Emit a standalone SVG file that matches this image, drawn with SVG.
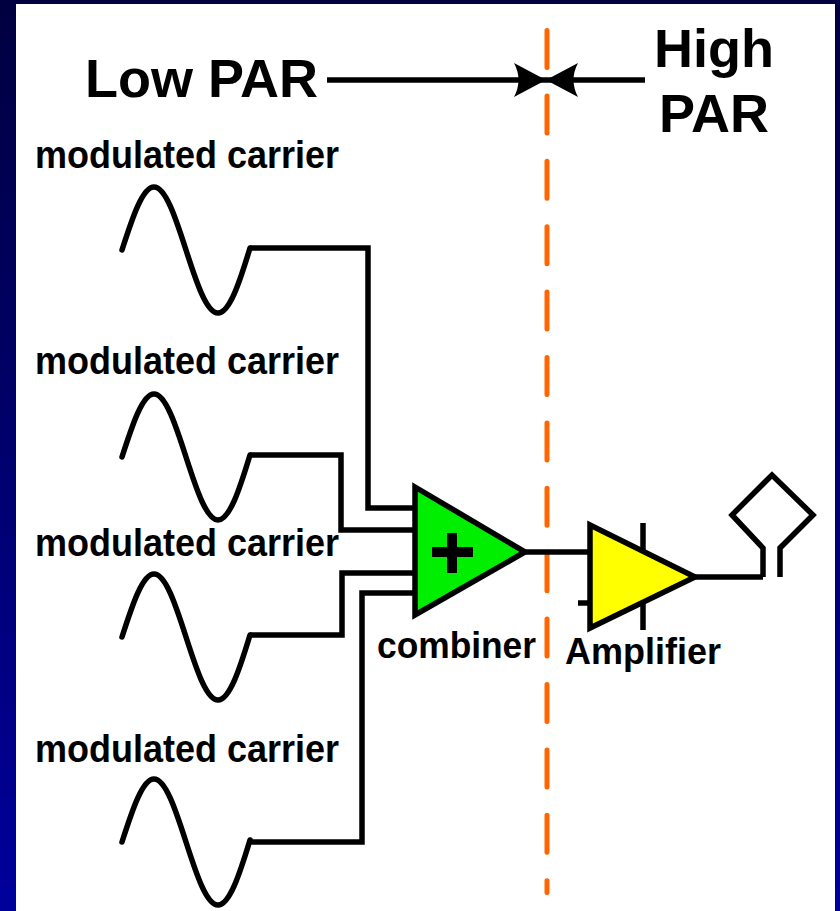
<svg xmlns="http://www.w3.org/2000/svg" width="840" height="911" viewBox="0 0 840 911">
  <defs>
    <linearGradient id="bg" x1="0" y1="0" x2="0" y2="1">
      <stop offset="0" stop-color="#000040"/>
      <stop offset="1" stop-color="#00009C"/>
    </linearGradient>
    <path id="wave" d="M0,0 C10.4,-32.3 20.5,-63 32,-63 C43.5,-63 53.6,-32.3 64,0 C74.4,32.3 84.5,63 96,63 C107.5,63 117.6,32.3 128,-2"/>
  </defs>
  <style>
    .ln { fill: none; stroke: #000; stroke-width: 5.5; stroke-linejoin: miter; }
    .wv { fill: none; stroke: #000; stroke-width: 5.5; stroke-linecap: round; }
    .lbl { font-family: "Liberation Sans", Arial, sans-serif; font-weight: bold; fill: #000; }
    .big { font-size: 54px; }
    .mc { font-size: 39px; }
    .sm { font-size: 37px; }
  </style>
  <rect x="0" y="0" width="840" height="911" fill="url(#bg)"/>
  <rect x="16" y="4" width="819" height="907" fill="#fff"/>

  <g id="divider">
    <path d="M547,30.5 V892.5" fill="none" stroke="#FF6600" stroke-width="5" stroke-linecap="round" stroke-dasharray="37 28.4"/>
  </g>

  <g id="par-labels">
    <text class="lbl big" x="85" y="97">Low PAR</text>
    <text class="lbl big" x="714" y="67" text-anchor="middle">High</text>
    <text class="lbl big" x="714" y="132" text-anchor="middle">PAR</text>
  </g>

  <g id="connectors">
    <path class="ln" d="M327,80 H645"/>
    <path d="M546,80 L514,63 Q523,80 514,97 Z" fill="#000"/>
    <path d="M546,80 L578,63 Q569,80 578,97 Z" fill="#000"/>
    <path class="ln" d="M250,248 H368 V508 H415"/>
    <path class="ln" d="M250,455 H341 V530 H415"/>
    <path class="ln" d="M250,635 H342 V573 H415"/>
    <path class="ln" d="M250,842 H362 V593 H415"/>
    <path class="ln" d="M525,552 H590"/>
    <path class="ln" d="M695,577 H763"/>
  </g>

  <g id="carrier1">
    <text class="lbl mc" x="35" y="168" textLength="304" lengthAdjust="spacingAndGlyphs">modulated carrier</text>
    <use href="#wave" class="wv" x="122" y="250"/>
  </g>
  <g id="carrier2">
    <text class="lbl mc" x="35" y="374" textLength="304" lengthAdjust="spacingAndGlyphs">modulated carrier</text>
    <use href="#wave" class="wv" x="122" y="457"/>
  </g>
  <g id="carrier3">
    <text class="lbl mc" x="35" y="556" textLength="304" lengthAdjust="spacingAndGlyphs">modulated carrier</text>
    <use href="#wave" class="wv" x="122" y="637"/>
  </g>
  <g id="carrier4">
    <text class="lbl mc" x="35" y="762" textLength="304" lengthAdjust="spacingAndGlyphs">modulated carrier</text>
    <use href="#wave" class="wv" x="122" y="842"/>
  </g>

  <g id="combiner">
    <path d="M415,487 L525,552 L415,615 Z" fill="#00EE00" stroke="#000" stroke-width="5.5" stroke-linejoin="miter"/>
    <rect x="432" y="547" width="41" height="10" fill="#000"/>
    <rect x="447" y="533" width="10" height="40" fill="#000"/>
    <text class="lbl sm" x="377" y="658" textLength="159" lengthAdjust="spacingAndGlyphs">combiner</text>
  </g>

  <g id="amplifier">
    <path class="ln" d="M643,523 V630"/>
    <path class="ln" d="M578,603 H590"/>
    <path d="M590,525 L695,577 L590,628 Z" fill="#FFFF00" stroke="#000" stroke-width="5.5" stroke-linejoin="miter"/>
    <text class="lbl sm" x="565" y="664" textLength="156" lengthAdjust="spacingAndGlyphs">Amplifier</text>
  </g>

  <g id="antenna">
    <path class="ln" d="M763,577 V548 L732,515 L772,475 L813,515 L780,548 V577"/>
  </g>
</svg>
